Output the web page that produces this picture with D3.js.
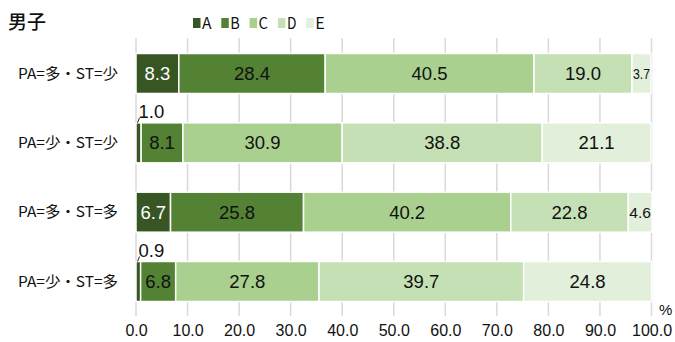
<!DOCTYPE html>
<html>
<head>
<meta charset="utf-8">
<script src="https://cdn.jsdelivr.net/npm/d3@7"></script>
<style>
  html, body { margin: 0; padding: 0; background: #fff; }
  svg { display: block; }
</style>
</head>
<body>
<svg id="chart" width="675" height="342"></svg>
<script>
// Groups (rows) and response categories (stack segments)
const groups = ["PA=多・ST=少", "PA=少・ST=少", "PA=多・ST=多", "PA=少・ST=多"];
const keys = ["A", "B", "C", "D", "E"];

// Percentages per row, in key order A..E
const valuesA = [8.3, 1.0, 6.7, 0.9];
const valuesB = [28.4, 8.1, 25.8, 6.8];
const valuesC = [40.5, 30.9, 40.2, 27.8];
const valuesD = [19.0, 38.8, 22.8, 39.7];
const valuesE = [3.7, 21.1, 4.6, 24.8];

const tickValues = [0, 10, 20, 30, 40, 50, 60, 70, 80, 90, 100];
const title = "男子";

const colors = ["#375623", "#548235", "#a9d08e", "#c5e0b4", "#e2efda"];
const labelColors = ["#ffffff", "#111111", "#111111", "#111111", "#111111"];

const rows = groups.map((g, i) => ({
  group: g,
  A: valuesA[i], B: valuesB[i], C: valuesC[i], D: valuesD[i], E: valuesE[i]
}));

const svg = d3.select("#chart");

const x = d3.scaleLinear().domain([0, 100]).range([136, 651.5]);
const y = d3.scaleBand().domain(groups).range([39, 316])
  .paddingInner(0.423).paddingOuter(0.209);

// Vertical gridlines across the plot, extending to the axis
svg.append("g")
  .selectAll("line")
  .data(tickValues)
  .join("line")
  .attr("x1", d => x(d)).attr("x2", d => x(d))
  .attr("y1", 38).attr("y2", 316)
  .attr("stroke", "#d9d9d9")
  .attr("stroke-width", 1.5);

// Stacked bars
const stack = d3.stack().keys(keys);
const series = stack(rows);

const layers = svg.append("g")
  .selectAll("g")
  .data(series)
  .join("g")
  .attr("fill", (d, i) => colors[i]);

layers.selectAll("rect")
  .data(d => d.map(s => ({ s, key: d.key })))
  .join("rect")
  .attr("x", d => x(d.s[0]))
  .attr("y", d => y(d.s.data.group))
  .attr("width", d => x(d.s[1]) - x(d.s[0]))
  .attr("height", y.bandwidth())
  .attr("stroke", "#ffffff")
  .attr("stroke-width", 1.5);

// Value labels
const labels = svg.append("g")
  .attr("font-family", "'Liberation Sans', Arial, sans-serif");

series.forEach((layer, li) => {
  layer.forEach(seg => {
    const v = seg.data[layer.key];
    const x0 = x(seg[0]), x1 = x(seg[1]);
    const w = x1 - x0;
    const cy = y(seg.data.group) + y.bandwidth() / 2;
    const txt = v.toFixed(1);
    if (w < 8) {
      // tiny segment: label above the bar with a short leader line
      const top = y(seg.data.group);
      svg.append("line")
        .attr("x1", x0 + 1.5).attr("y1", top)
        .attr("x2", x0 + 3.5).attr("y2", top - 5)
        .attr("stroke", "#222").attr("stroke-width", 1);
      labels.append("text")
        .attr("x", x0 + 2.5)
        .attr("y", top - 5)
        .attr("font-size", 18.5)
        .attr("fill", "#111")
        .text(txt);
    } else if (w < 25) {
      labels.append("text")
        .attr("x", (x0 + x1) / 2)
        .attr("y", cy)
        .attr("dy", "0.36em")
        .attr("text-anchor", "middle")
        .attr("font-size", 15)
        .attr("textLength", w - 2)
        .attr("lengthAdjust", "spacingAndGlyphs")
        .attr("fill", labelColors[li])
        .text(txt);
    } else {
      labels.append("text")
        .attr("x", (x0 + x1) / 2)
        .attr("y", cy)
        .attr("dy", "0.36em")
        .attr("text-anchor", "middle")
        .attr("font-size", 18.5)
        .attr("fill", labelColors[li])
        .text(txt);
    }
  });
});

// Category axis labels
svg.append("g")
  .selectAll("text")
  .data(groups)
  .join("text")
  .attr("x", 118)
  .attr("y", d => y(d) + y.bandwidth() / 2)
  .attr("dy", "0.36em")
  .attr("text-anchor", "end")
  .attr("font-family", "'Noto Sans CJK JP', sans-serif")
  .attr("font-size", 14.5)
  .attr("textLength", 100)
  .attr("lengthAdjust", "spacingAndGlyphs")
  .attr("fill", "#111")
  .text(d => d);

// Value axis (labels only; gridlines double as ticks)
const xAxis = d3.axisBottom(x)
  .tickValues(tickValues)
  .tickFormat(d3.format(".1f"))
  .tickSize(0)
  .tickPadding(0);

const axisG = svg.append("g")
  .attr("transform", "translate(0,325)")
  .call(xAxis);
axisG.select(".domain").remove();
axisG.selectAll("text")
  .attr("font-family", "'Liberation Sans', Arial, sans-serif")
  .attr("font-size", 16)
  .attr("fill", "#111")
  .attr("dy", "0.71em");

// Unit label
svg.append("text")
  .attr("x", 659).attr("y", 315)
  .attr("font-family", "'Liberation Sans', Arial, sans-serif")
  .attr("font-size", 15)
  .attr("fill", "#111")
  .text("%");

// Title
svg.append("text")
  .attr("x", 8).attr("y", 29)
  .attr("font-family", "'Noto Sans CJK JP', sans-serif")
  .attr("font-size", 19)
  .attr("font-weight", 500)
  .attr("fill", "#111")
  .text(title);

// Legend
const legend = svg.append("g");
keys.forEach((k, i) => {
  const lx = 193 + i * 28.3;
  legend.append("rect")
    .attr("x", lx).attr("y", 18)
    .attr("width", 7.5).attr("height", 10)
    .attr("fill", colors[i]);
  legend.append("text")
    .attr("x", lx + 9).attr("y", 29)
    .attr("font-family", "'Noto Sans CJK JP', sans-serif")
    .attr("font-size", 16)
    .attr("textLength", 9.5)
    .attr("lengthAdjust", "spacingAndGlyphs")
    .attr("fill", "#111")
    .text(k);
});
</script>
</body>
</html>
